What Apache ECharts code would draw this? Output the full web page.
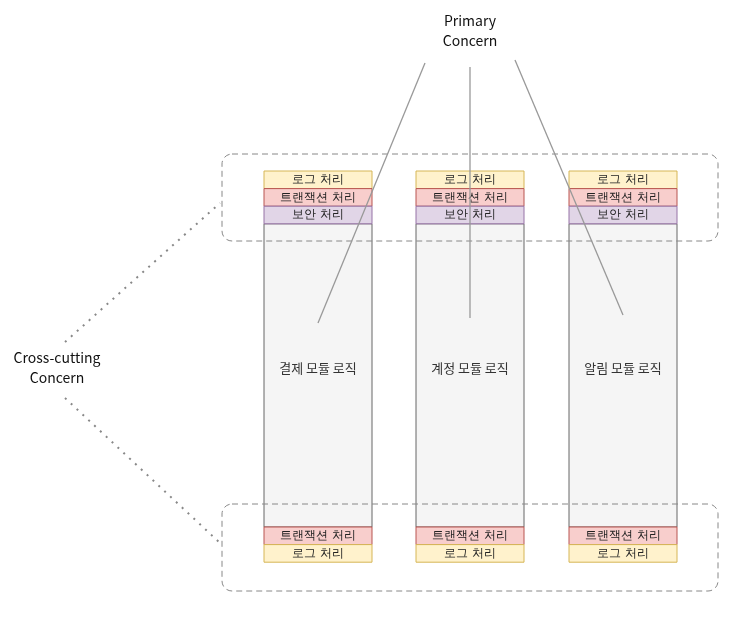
<!DOCTYPE html>
<html>
<head>
<meta charset="utf-8">
<title>AOP</title>
<script src="https://cdn.jsdelivr.net/npm/echarts@6/dist/echarts.min.js"></script>
<style>html,body{margin:0;background:#fff}</style>
</head>
<body>
<div id="main" style="width:753px;height:617px;"></div>
<script>
// modules (columns) and their concern layers
var modules = ['결제 모듈 로직', '계정 모듈 로직', '알림 모듈 로직'];
var moduleX = [264, 416, 569];
var topLayers = ['로그 처리', '트랜잭션 처리', '보안 처리'];
var bottomLayers = ['트랜잭션 처리', '로그 처리'];
var layerStyle = {
    '로그 처리': ['#fff2cc', '#d6b656'],
    '트랜잭션 처리': ['#f8cecc', '#b85450'],
    '보안 처리': ['#e1d5e7', '#9673a6']
};
var font = '"Noto Sans CJK KR", "Noto Sans", sans-serif';

var W = 108, H = 17.6, TOP = 171, BODY_END = 527;

var chart = echarts.init(document.getElementById('main'));

function box(api, x, y, w, h, fill, stroke, text) {
    var p = api.coord([x, y]), q = api.coord([x + w, y + h]);
    return {
        type: 'rect',
        shape: {x: p[0], y: p[1], width: q[0] - p[0], height: q[1] - p[1]},
        style: {fill: fill, stroke: stroke, lineWidth: 1, text: text,
            textFill: '#222', font: '13px ' + font}
    };
}

var option = {
    animation: false,
    grid: {left: 0, right: 0, top: 0, bottom: 0},
    xAxis: {type: 'value', min: 0, max: 753, show: false},
    yAxis: {type: 'value', min: 0, max: 617, inverse: true, show: false},
    series: [{
        type: 'custom',
        data: modules.map(function (m, i) { return [moduleX[i], i]; }),
        renderItem: function (params, api) {
            var i = params.dataIndex, x = moduleX[i];
            var kids = [];
            var bodyTop = TOP + topLayers.length * H;
            var b = box(api, x, bodyTop, W, BODY_END - bodyTop, '#f5f5f5', '#666666', '');
            kids.push(b);
            var c = api.coord([x + W / 2, 368]);
            kids.push({type: 'text', style: {x: c[0], y: c[1], text: modules[i], textAlign: 'center',
                textVerticalAlign: 'middle', font: '13px ' + font, fill: '#333'}});
            topLayers.forEach(function (l, k) {
                kids.push(box(api, x, TOP + k * H, W, H, layerStyle[l][0], layerStyle[l][1], l));
            });
            bottomLayers.forEach(function (l, k) {
                kids.push(box(api, x, BODY_END + k * H, W, H, layerStyle[l][0], layerStyle[l][1], l));
            });
            return {type: 'group', children: kids};
        },
        z: 2
    }, {
        type: 'custom',
        data: [[0]],
        renderItem: function (params, api) {
            var kids = [];
            [[222, 154], [222, 504]].forEach(function (r) {
                var p = api.coord(r), q = api.coord([r[0] + 496, r[1] + 87]);
                kids.push({type: 'rect', shape: {x: p[0], y: p[1], width: q[0] - p[0], height: q[1] - p[1], r: 10},
                    style: {fill: 'none', stroke: '#888', lineWidth: 1, lineDash: [6, 4]}});
            });
            // primary concern arrows
            [[[425, 63], [318, 323]], [[470, 67], [470, 318]], [[515, 60], [623, 315]]].forEach(function (s) {
                var a = api.coord(s[0]), b = api.coord(s[1]);
                kids.push({type: 'line', shape: {x1: a[0], y1: a[1], x2: b[0], y2: b[1]},
                    style: {stroke: '#999', lineWidth: 1.3}, z2: 10});
            });
            // cross-cutting dotted lines
            [[[65, 342], [220, 203]], [[65, 398], [220, 543]]].forEach(function (s) {
                var a = api.coord(s[0]), b = api.coord(s[1]);
                kids.push({type: 'line', shape: {x1: a[0], y1: a[1], x2: b[0], y2: b[1]},
                    style: {stroke: '#888', lineWidth: 2, lineDash: [2, 6]}});
            });
            var t1 = api.coord([470, 31]), t2 = api.coord([57, 368]);
            kids.push({type: 'text', style: {x: t1[0], y: t1[1], text: 'Primary\nConcern', textAlign: 'center',
                textVerticalAlign: 'middle', font: '14px ' + font, fill: '#111', lineHeight: 20}});
            kids.push({type: 'text', style: {x: t2[0], y: t2[1], text: 'Cross-cutting\nConcern', textAlign: 'center',
                textVerticalAlign: 'middle', font: '14px ' + font, fill: '#111', lineHeight: 20}});
            return {type: 'group', children: kids};
        },
        z: 3
    }]
};
chart.setOption(option);
</script>
</body>
</html>
